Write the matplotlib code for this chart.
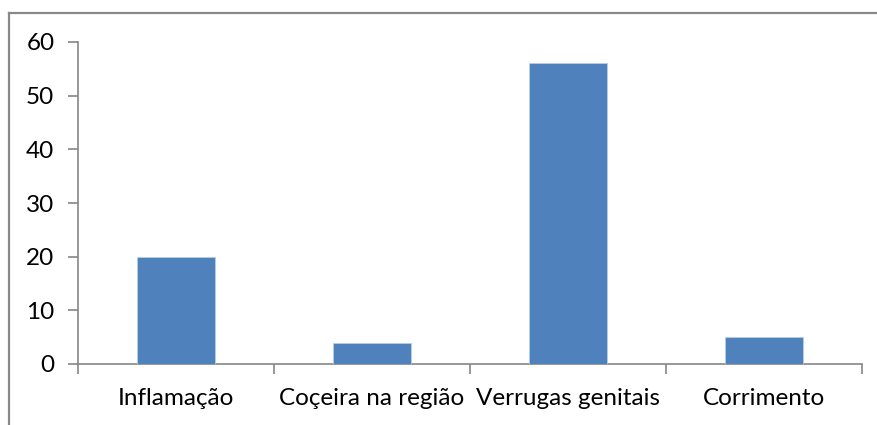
import matplotlib
matplotlib.use("Agg")
import matplotlib.pyplot as plt
from matplotlib.lines import Line2D

categories = ["Inflamação", "Coçeira na região", "Verrugas genitais", "Corrimento"]
values = [20, 4, 56, 5]
yticks = [0, 10, 20, 30, 40, 50, 60]

plt.rcParams['font.family'] = ['Lato', 'DejaVu Sans']

W, H = 878, 425
fig = plt.figure(figsize=(W/100, H/100), dpi=100)
ax = fig.add_axes([78/W, 1-364/H, (862-78)/W, (364-42)/H])

x = list(range(len(categories)))
ax.bar(x, values, width=0.4, color="#4F81BD", edgecolor="#B9CDE5", linewidth=0.6, zorder=3)

ax.set_xlim(-0.5, len(categories)-0.5)
ax.set_ylim(0, 60)
ax.set_yticks(yticks)
ax.set_yticklabels([str(v) for v in yticks], fontsize=17.5)
ax.set_xticks(x)
ax.set_xticklabels(categories, fontsize=17.5)
ax.set_xticks([i - 0.5 for i in range(len(categories)+1)], minor=True)

for s in ["top", "right"]:
    ax.spines[s].set_visible(False)
for s in ["left", "bottom"]:
    ax.spines[s].set_color("#868686")
    ax.spines[s].set_linewidth(1.2)

ax.tick_params(axis="x", which="major", length=0, pad=17)
ax.tick_params(axis="x", which="minor", length=7, color="#868686", width=1.2)
ax.tick_params(axis="y", length=7, color="#868686", width=1.2, pad=10)

# outer chart border (left and top edges visible)
fig.add_artist(Line2D([9/W, 9/W], [0, 1-12.5/H], transform=fig.transFigure, color="#898989", linewidth=1.6))
fig.add_artist(Line2D([9/W, 1], [1-12.5/H, 1-12.5/H], transform=fig.transFigure, color="#898989", linewidth=1.6))

fig.savefig("out.png", dpi=100)
